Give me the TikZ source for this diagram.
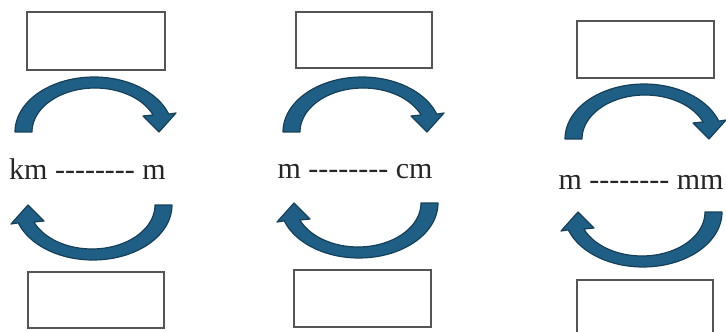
\documentclass[tikz,border=0pt]{standalone}
\usepackage{fontspec}
\setmainfont{Liberation Serif}
\definecolor{arrfill}{HTML}{1F5F85}
\definecolor{arrline}{HTML}{163F58}
\definecolor{boxline}{HTML}{555555}
\newcommand\hyphrun{-{}-{}-{}-{}-{}-{}-{}-}
\tikzset{
  ansbox/.style={draw=boxline, line width=0.7pt, fill=white, inner sep=0pt},
  unitlabel/.style={anchor=base, inner sep=0pt, font=\fontsize{15pt}{18pt}\selectfont, text=black!85},
  carrow/.pic={
    \fill[arrfill, draw=arrline, line width=0.6pt, line join=round]
      plot[domain=180:19, samples=50] ({2+79*cos(\x)},{-55*sin(\x)})
      -- (84,-19) -- (67,0) -- (51,-16) -- (61,-17)
      -- plot[domain=22.7:180, samples=50] ({3+63*cos(\x)},{-44*sin(\x)}) -- cycle;
  }
}
\begin{document}
\begin{tikzpicture}[x=0.5pt,y=-0.5pt]
\useasboundingbox (0,0) rectangle (726,331);
% group 1
\node[ansbox, minimum width=69pt, minimum height=29pt] (b1t) at (96,41) {};
\node[ansbox, minimum width=68pt, minimum height=28pt] (b1b) at (96,300) {};
\pic (a1t) at (92,132) {carrow};
\pic[rotate=180] (a1b) at (95,205) {carrow};
\node[unitlabel] (t1) at (87.5,179) {km \hyphrun{} m};
% group 2
\node[ansbox, minimum width=68pt, minimum height=28pt] (b2t) at (364,40) {};
\node[ansbox, minimum width=68.5pt, minimum height=28.5pt] (b2b) at (362.5,298.5) {};
\pic (a2t) at (360,132) {carrow};
\pic[rotate=180] (a2b) at (361,203) {carrow};
\node[unitlabel] (t2) at (355,178) {m \hyphrun{} cm};
% group 3
\node[ansbox, minimum width=68.5pt, minimum height=28.5pt] (b3t) at (645.5,49.5) {};
\node[ansbox, minimum width=68pt, minimum height=28.5pt] (b3b) at (645,308.5) {};
\pic (a3t) at (642,139) {carrow};
\pic[rotate=180] (a3b) at (645,212) {carrow};
\node[unitlabel] (t3) at (641,189) {m \hyphrun{} mm};
\end{tikzpicture}
\end{document}
